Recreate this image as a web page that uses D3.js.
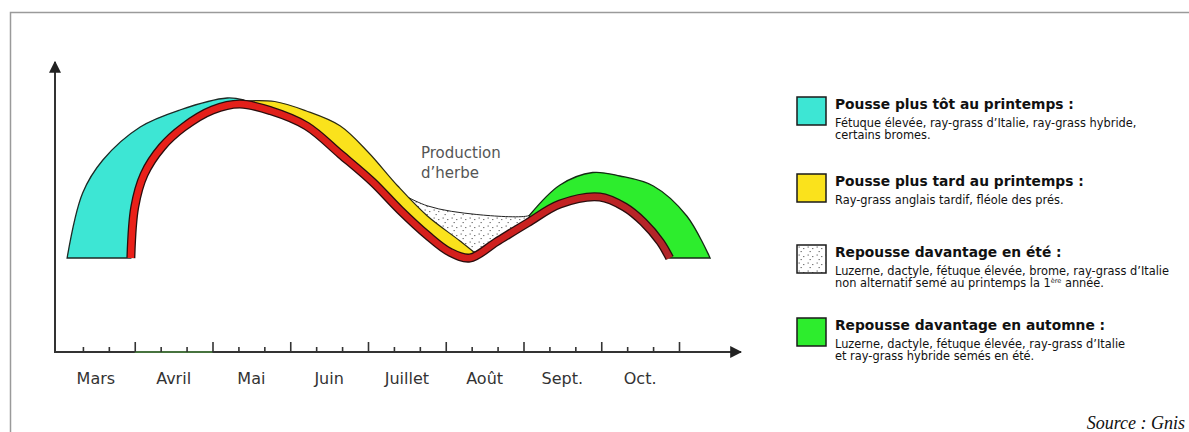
<!DOCTYPE html>
<html>
<head>
<meta charset="utf-8">
<script src="https://cdn.jsdelivr.net/npm/d3@7"></script>
<style>
  body { margin: 0; background: #fff; }
  svg { display: block; font-family: "DejaVu Sans", sans-serif; }
</style>
</head>
<body>
<svg id="chart" width="1189" height="432"></svg>
<script>
// month labels, each one sits in the middle of its month
const months = ["Mars", "Avril", "Mai", "Juin", "Juillet", "Août", "Sept.", "Oct."];

// base curve (red band): x = months since 1 March, y = grass production (0-100)
const redX = [0.95, 1.0, 1.12, 1.35, 1.63, 2.0, 2.35, 2.75, 3.21, 3.65, 4.06, 4.41, 4.76, 5.05, 5.31, 5.65, 6.05, 6.47, 6.98, 7.3, 7.54, 7.76, 7.88];
const redY = [37.6, 58, 71, 82, 90, 96.8, 99.2, 96.5, 90.4, 79, 68, 56.8, 46.8, 40, 37.6, 44, 51.6, 59.2, 62, 58, 52, 44, 37.6];

// outer edge of "pousse plus tôt au printemps" (cyan)
const earlyX = [0.13, 0.33, 0.59, 1.07, 1.58, 2.19, 2.4];
const earlyY = [37.6, 63.6, 76.8, 90, 96.8, 101.6, 100.8];

// outer edge of "pousse plus tard au printemps" (yellow)
const lateX = [2.4, 2.8, 3.2, 3.64, 4.0, 4.38, 4.76, 5.18, 5.38];
const lateY = [100.4, 100.2, 96.5, 90.5, 80, 66.5, 54.5, 44.5, 39.5];

// upper line of "repousse davantage en été" (dotted)
const summerX = [4.3, 4.76, 5.4, 6.05, 6.12];
const summerY = [65.5, 58.5, 55, 54.4, 55.5];

// outer edge of "repousse davantage en automne" (green)
const autumnX = [6.08, 6.47, 6.89, 7.24, 7.67, 8.1, 8.4];
const autumnY = [54.8, 66.8, 71.8, 70.4, 66.4, 54.4, 37.6];

// legend
const legendTitles = ["Pousse plus tôt au printemps :", "Pousse plus tard au printemps :",
  "Repousse davantage en été :", "Repousse davantage en automne :"];
const legendLines = [
  ["Fétuque élevée, ray-grass d’Italie, ray-grass hybride,", "certains bromes."],
  ["Ray-grass anglais tardif, fléole des prés."],
  ["Luzerne, dactyle, fétuque élevée, brome, ray-grass d’Italie", "non alternatif semé au printemps la 1^ère^ année."],
  ["Luzerne, dactyle, fétuque élevée, ray-grass d’Italie", "et ray-grass hybride semés en été."]
];
const legendFills = ["#3de6d4", "#fae21c", "url(#dots)", "#2ded2d"];

const svg = d3.select("#chart");

// frame (top and left only)
svg.append("path").attr("d", "M10.5,432V12.5H1189").attr("fill", "none")
  .attr("stroke", "#9a9a9a").attr("stroke-width", 1.5);

let x = d3.scaleLinear().domain([0, 8]).range([57, 679]);
let y = d3.scaleLinear().domain([0, 100]).range([352, 102]);

let zip = (xs, ys) => xs.map((d, i) => [d, ys[i]]);
let line = d3.line().x(d => x(d[0])).y(d => y(d[1])).curve(d3.curveCatmullRom.alpha(0.5));
let redPts = zip(redX, redY);

// outer edge, then back along a piece of the red curve
let band = (edge, from, to) => {
  let back = redPts.slice(from, to + 1).reverse();
  return line(edge) + line(back).replace(/^M/, "L") + "Z";
};

let defs = svg.append("defs");
let pat = defs.append("pattern").attr("id", "dots").attr("patternUnits", "userSpaceOnUse")
  .attr("width", 9).attr("height", 8);
pat.append("rect").attr("width", 9).attr("height", 8).attr("fill", "#fff");
[[1.5, 1.5], [6, 3], [3.5, 6]].forEach(p => {
  pat.append("rect").attr("x", p[0]).attr("y", p[1]).attr("width", 1.4).attr("height", 1.1)
    .attr("fill", "#7a7a7a");
});
let grad = defs.append("linearGradient").attr("id", "redgrad").attr("gradientUnits", "userSpaceOnUse")
  .attr("x1", x(1)).attr("x2", x(8)).attr("y1", 0).attr("y2", 0);
grad.append("stop").attr("offset", 0).attr("stop-color", "#ea2019");
grad.append("stop").attr("offset", 0.6).attr("stop-color", "#d41f1c");
grad.append("stop").attr("offset", 1).attr("stop-color", "#b0262a");

let plot = svg.append("g");

// dotted summer area, drawn first so yellow covers its left part
plot.append("path").attr("d", line(zip(summerX, summerY)) + line(redPts.slice(10, 17).reverse()).replace(/^M/, "L") + "Z")
  .attr("fill", "url(#dots)");
plot.append("path").attr("d", line(zip(summerX, summerY))).attr("fill", "none")
  .attr("stroke", "#222").attr("stroke-width", 1);

plot.append("path").attr("d", band(zip(earlyX, earlyY), 0, 6))
  .attr("fill", legendFills[0]).attr("stroke", "#1d2a26").attr("stroke-width", 1.3);
plot.append("path").attr("d", band(zip(lateX, lateY), 6, 14))
  .attr("fill", legendFills[1]).attr("stroke", "#2a2a14").attr("stroke-width", 1.2);
plot.append("path").attr("d", band(zip(autumnX, autumnY), 16, 22))
  .attr("fill", legendFills[3]).attr("stroke", "#142a14").attr("stroke-width", 1.3);

// red base curve with dark outline
plot.append("path").attr("d", line(redPts)).attr("fill", "none")
  .attr("stroke", "#2a0d0d").attr("stroke-width", 9);
plot.append("path").attr("d", line(redPts)).attr("fill", "none")
  .attr("stroke", "url(#redgrad)").attr("stroke-width", 6.4);

// axes
let axisColor = "#333";
defs.append("marker").attr("id", "arrow").attr("viewBox", "0 0 10 10").attr("refX", 9).attr("refY", 5)
  .attr("markerUnits", "userSpaceOnUse").attr("markerWidth", 12).attr("markerHeight", 12)
  .attr("orient", "auto")
  .append("path").attr("d", "M0,0L10,5L0,10Z").attr("fill", "#222");

svg.append("line").attr("x1", 55).attr("y1", 352).attr("x2", 55).attr("y2", 62)
  .attr("stroke", axisColor).attr("stroke-width", 2).attr("marker-end", "url(#arrow)");
svg.append("line").attr("x1", 54).attr("y1", 352).attr("x2", 741).attr("y2", 352)
  .attr("stroke", axisColor).attr("stroke-width", 2).attr("marker-end", "url(#arrow)");
// April stretch of the axis is greenish in the original
svg.append("line").attr("x1", x(1)).attr("x2", x(2)).attr("y1", 352).attr("y2", 352)
  .attr("stroke", "#4f8a45").attr("stroke-width", 1.6);

let minorTicks = d3.range(0, 24).filter(i => i % 3 != 0).map(i => i / 3);
let majorTicks = d3.range(1, 9);

let minorAxis = svg.append("g").attr("transform", "translate(0,352)")
  .call(d3.axisBottom(x).tickValues(minorTicks).tickSize(-5).tickFormat(""));
let majorAxis = svg.append("g").attr("transform", "translate(0,352)")
  .call(d3.axisBottom(x).tickValues(majorTicks).tickSize(-10).tickFormat(""));
[minorAxis, majorAxis].forEach(a => {
  a.select(".domain").remove();
  a.selectAll("line").attr("stroke", axisColor).attr("stroke-width", 1.6);
});

svg.append("g").selectAll("text").data(months).enter().append("text")
  .attr("x", (d, i) => x(i + 0.5))
  .attr("y", 384)
  .attr("text-anchor", "middle")
  .attr("font-size", "16px")
  .attr("fill", "#333")
  .text(d => d);

// curve label
svg.append("text").attr("x", 421).attr("y", 158).attr("font-size", "15px").attr("fill", "#555")
  .selectAll("tspan").data(["Production", "d’herbe"]).enter().append("tspan")
  .attr("x", 421).attr("dy", (d, i) => i == 0 ? 0 : 20).text(d => d);

// legend
const legendTop = [97, 174, 245, 318];
let legend = svg.append("g");
legendTitles.forEach((title, i) => {
  let g = legend.append("g").attr("transform", "translate(797," + legendTop[i] + ")");
  g.append("rect").attr("width", 29).attr("height", 28).attr("fill", legendFills[i])
    .attr("stroke", "#1a1a1a").attr("stroke-width", 1.5);
  g.append("text").attr("x", 38).attr("y", 12).attr("font-size", "13.8px").attr("font-weight", "bold")
    .attr("fill", "#111").text(title);
  legendLines[i].forEach((txt, j) => {
    let t = g.append("text").attr("x", 38).attr("y", 30 + j * 12).attr("font-size", "11.4px").attr("fill", "#111");
    txt.split("^").forEach((part, k) => {
      let ts = t.append("tspan").text(part);
      if (k == 1) ts.attr("font-size", "6.5px").attr("dy", -4);
      if (k == 2) ts.attr("dy", 4);
    });
  });
});

// source
svg.append("text").attr("x", 1185).attr("y", 429).attr("text-anchor", "end")
  .attr("font-family", "Liberation Serif, serif").attr("font-style", "italic")
  .attr("font-size", "18px").attr("fill", "#111").text("Source : Gnis");
</script>
</body>
</html>
